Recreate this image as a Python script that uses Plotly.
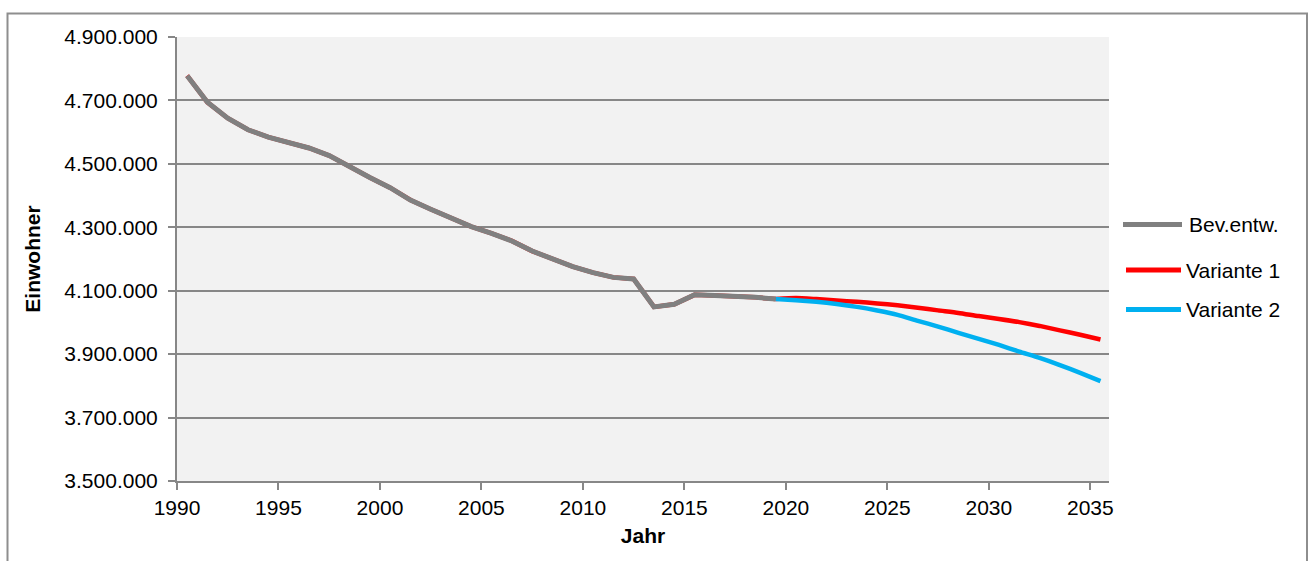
import plotly.graph_objects as go

# ---- data -------------------------------------------------------------
hist_years = list(range(1990, 2020))
hist_pop = [
    4778000, 4694000, 4644000, 4607500, 4584000, 4568000, 4550000, 4526000,
    4490000, 4457000, 4425000, 4386000, 4357000, 4330000, 4302000, 4281000,
    4257000, 4225000, 4199000, 4176000, 4157000, 4142000, 4137000, 4049000,
    4057000, 4087000, 4085000, 4083000, 4079000, 4074000,
]

proj_years = list(range(2019, 2036))
var1_proj = [
    4074000, 4077000, 4073500, 4069000, 4065000, 4060000, 4054000, 4046500,
    4038000, 4030000, 4020000, 4011000, 4001000, 3989000, 3975000, 3961000,
    3946000,
]
var2_proj = [
    4074000, 4070000, 4065000, 4058000, 4049000, 4037500, 4024000, 4005000,
    3987000, 3967000, 3948000, 3929000, 3908000, 3888000, 3865500, 3841000,
    3815000,
]

tick_years = [1990, 1995, 2000, 2005, 2010, 2015, 2020, 2025, 2030, 2035]
y_ticks = [3500000, 3700000, 3900000, 4100000, 4300000, 4500000, 4700000, 4900000]

series_names = ["Bev.entw.", "Variante 1", "Variante 2"]
series_colors = ["#808080", "#ff0000", "#00b0f0"]

# ---- layout geometry ----------------------------------------------------
W, H = 1309, 561
M_L, M_R, M_T, M_B = 177, 200, 37, 80
PW, PH = W - M_L - M_R, H - M_T - M_B


def px(x):
    """Pixel column -> paper x."""
    return (x - M_L) / PW


def py(y):
    """Pixel row -> paper y."""
    return (H - M_B - y) / PH


FONT = "Liberation Sans, Arial, sans-serif"
FS = 21
GRID = "#878787"

fig = go.Figure()

# Variante 1 runs through the whole period, drawn beneath the history line
fig.add_trace(go.Scatter(
    x=hist_years, y=hist_pop, mode="lines", name=series_names[1],
    line=dict(color=series_colors[1], width=4.5), showlegend=False,
))
fig.add_trace(go.Scatter(
    x=proj_years, y=var1_proj, mode="lines", name=series_names[1],
    line=dict(color=series_colors[1], width=4.5, shape="spline", smoothing=0.6),
    showlegend=False,
))
fig.add_trace(go.Scatter(
    x=hist_years, y=hist_pop, mode="lines", name=series_names[0],
    line=dict(color=series_colors[0], width=5), showlegend=False,
))
fig.add_trace(go.Scatter(
    x=proj_years, y=var2_proj, mode="lines", name=series_names[2],
    line=dict(color=series_colors[2], width=4.5, shape="spline", smoothing=0.6),
    showlegend=False,
))

# ---- legend keys (drawn beside the plot) -------------------------------
legend_rows = [
    (series_names[0], series_colors[0], 1123, 1182, 224.5, 1188),
    (series_names[1], series_colors[1], 1126, 1181, 270, 1185),
    (series_names[2], series_colors[2], 1126, 1181, 309.5, 1185),
]
shapes = []
annotations = []
for name, color, lx0, lx1, ly, tx in legend_rows:
    shapes.append(dict(
        type="line", xref="paper", yref="paper",
        x0=px(lx0), x1=px(lx1), y0=py(ly), y1=py(ly),
        line=dict(color=color, width=5),
    ))
    annotations.append(dict(
        text=name, xref="paper", yref="paper", x=px(tx), y=py(ly),
        xanchor="left", yanchor="middle", showarrow=False,
        font=dict(family=FONT, size=FS, color="black"), borderpad=0,
    ))

# outer chart frame
shapes.append(dict(
    type="rect", xref="paper", yref="paper",
    x0=px(7.5), x1=px(1307), y0=py(580), y1=py(13.5),
    line=dict(color="#8e8e8e", width=2), fillcolor="rgba(0,0,0,0)", layer="below",
))

fig.update_layout(
    width=W, height=H,
    margin=dict(l=M_L, r=M_R, t=M_T, b=M_B, pad=0),
    paper_bgcolor="white", plot_bgcolor="#f2f2f2",
    separators=",.",
    font=dict(family=FONT, size=FS, color="black"),
    shapes=shapes, annotations=annotations,
    showlegend=False,
)

fig.update_xaxes(
    range=[1989.5, 2035.42],
    tickvals=[t - 0.5 for t in tick_years],
    ticktext=[str(t) for t in tick_years],
    ticks="outside", ticklen=7, tickwidth=1.5, tickcolor=GRID,
    showline=True, linecolor=GRID, linewidth=2,
    showgrid=False, zeroline=False,
    tickfont=dict(family=FONT, size=FS, color="black"),
    title=dict(text="<b>Jahr</b>", font=dict(family=FONT, size=FS, color="black"), standoff=10),
)
fig.update_yaxes(
    range=[3500000, 4900000],
    tickvals=y_ticks, tickformat=",d",
    ticks="outside", ticklen=7, tickwidth=1.5, tickcolor=GRID,
    showline=True, linecolor=GRID, linewidth=2,
    showgrid=True, gridcolor=GRID, gridwidth=1.6, zeroline=False,
    ticklabelstandoff=6,
    tickfont=dict(family=FONT, size=FS, color="black"),
    title=dict(text="<b>Einwohner</b>", font=dict(family=FONT, size=FS, color="black"), standoff=18),
)

fig.write_html("out.html")
